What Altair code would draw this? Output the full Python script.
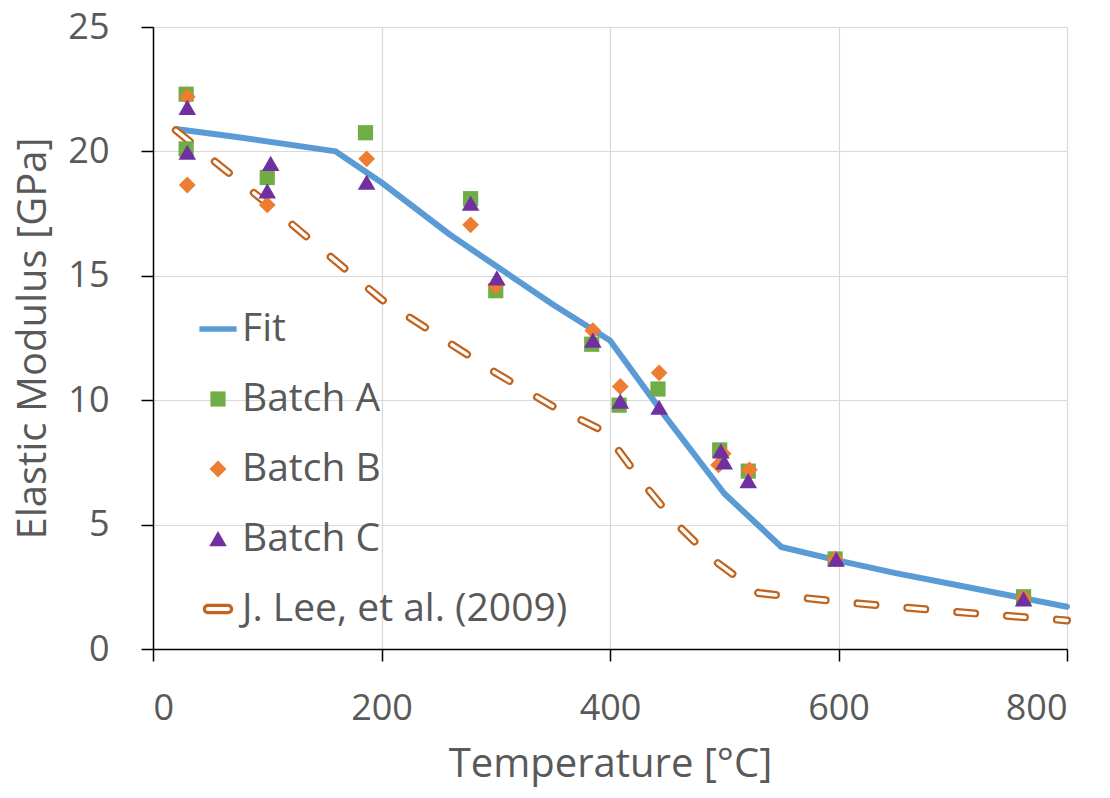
import altair as alt
import pandas as pd

# ---- data ----
fit_temp = [20, 70, 160, 200, 260, 300, 350, 400, 450, 500, 550, 600, 650, 700, 750, 800]
fit_mod = [20.9, 20.6, 20.0, 18.75, 16.65, 15.4, 13.85, 12.4, 9.25, 6.25, 4.1, 3.55, 3.05, 2.6, 2.15, 1.7]

lee_temp = [20, 100, 200, 300, 350, 395, 430, 460, 490, 530, 600, 700, 800]
lee_mod = [20.85, 17.9, 14.05, 11.1, 9.75, 8.75, 6.6, 4.95, 3.6, 2.25, 1.9, 1.5, 1.15]

a_temp = [29, 29, 100, 186, 278, 300, 384, 408, 442, 496, 521, 597, 762]
a_mod = [22.3, 20.1, 18.95, 20.75, 18.1, 14.4, 12.25, 9.8, 10.45, 8.0, 7.15, 3.62, 2.1]

b_temp = [30, 30, 100, 187, 278, 300, 385, 409, 443, 495, 499, 522, 597, 762]
b_mod = [22.2, 18.65, 17.85, 19.7, 17.05, 14.6, 12.8, 10.55, 11.1, 7.4, 7.85, 7.2, 3.62, 2.05]

c_temp = [30, 30, 103, 100, 187, 278, 301, 385, 409, 443, 497, 500, 521, 598, 762]
c_mod = [21.75, 19.95, 19.5, 18.4, 18.75, 17.9, 14.9, 12.4, 9.95, 9.7, 7.95, 7.5, 6.75, 3.6, 2.0]

series_names = ["Fit", "Batch A", "Batch B", "Batch C", "J. Lee, et al. (2009)"]
series_colors = ["#5B9BD5", "#70AD47", "#ED7D31", "#7030A0", "#C0641E"]

# symbol paths (unit = half of sqrt(size))
sym_fit = "M-0.93,-0.14 L0.93,-0.14 L0.93,0.14 L-0.93,0.14 Z"
sym_square = "M-0.38,-0.38 L0.38,-0.38 L0.38,0.38 L-0.38,0.38 Z"
sym_diamond = "M0,-0.42 L0.42,0 L0,0.42 L-0.42,0 Z"
sym_triangle = "M0,-0.4 L0.44,0.36 L-0.44,0.36 Z"
sym_lee = ("M-0.5,-0.26 L0.5,-0.26 A0.26,0.26 0 0 1 0.5,0.26 L-0.5,0.26 "
           "A0.26,0.26 0 0 1 -0.5,-0.26 Z "
           "M-0.5,-0.1 A0.1,0.1 0 0 0 -0.5,0.1 L0.5,0.1 A0.1,0.1 0 0 0 0.5,-0.1 Z")
series_shapes = [sym_fit, sym_square, sym_diamond, sym_triangle, sym_lee]

fit_df = pd.DataFrame({"T": fit_temp, "E": fit_mod})
lee_df = pd.DataFrame({"T": lee_temp, "E": lee_mod})
pts_df = pd.concat([
    pd.DataFrame({"T": a_temp, "E": a_mod, "series": "Batch A"}),
    pd.DataFrame({"T": b_temp, "E": b_mod, "series": "Batch B"}),
    pd.DataFrame({"T": c_temp, "E": c_mod, "series": "Batch C"}),
], ignore_index=True)
pts_df["order"] = pts_df.index

FONT = "Open Sans"
GREY = "#595959"

xscale = alt.Scale(domain=[0, 800], nice=False)
yscale = alt.Scale(domain=[0, 25], nice=False)

xenc = alt.X("T:Q", scale=xscale, axis=alt.Axis(
    values=[0, 200, 400, 600, 800], title="Temperature [°C]", format="d",
    tickSize=12, labelPadding=30, titlePadding=18))
yenc = alt.Y("E:Q", scale=yscale, axis=alt.Axis(
    values=[0, 5, 10, 15, 20, 25], title="Elastic Modulus [GPa]",
    tickSize=12, labelPadding=32, titlePadding=14))

fit_line = alt.Chart(fit_df).mark_line(
    color="#5B9BD5", strokeWidth=6, strokeCap="round", strokeJoin="round"
).encode(x=xenc, y=yenc)

lee_outer = alt.Chart(lee_df).mark_line(
    color="#C0641E", strokeWidth=8, strokeDash=[18, 32], strokeCap="round"
).encode(x="T:Q", y="E:Q")
lee_inner = alt.Chart(lee_df).mark_line(
    color="white", strokeWidth=3.5, strokeDash=[18, 32], strokeCap="round"
).encode(x="T:Q", y="E:Q")

points = alt.Chart(pts_df).mark_point(filled=True, opacity=1, size=1600).encode(
    x="T:Q", y="E:Q",
    color=alt.Color("series:N", scale=alt.Scale(domain=series_names, range=series_colors),
                    legend=alt.Legend(title=None, orient="none", legendX=45, legendY=282)),
    shape=alt.Shape("series:N", scale=alt.Scale(domain=series_names, range=series_shapes),
                    legend=alt.Legend(title=None, orient="none", legendX=45, legendY=282)),
    order="order:Q",
)

chart = alt.layer(fit_line, lee_outer, lee_inner, points).properties(
    width=914, height=622,
    autosize=alt.AutoSizeParams(type="none"),
    padding={"left": 153, "top": 27, "right": 43, "bottom": 149},
    background="white",
).configure_view(stroke=None).configure_axis(
    labelFont=FONT, labelFontSize=36, labelColor=GREY,
    titleFont=FONT, titleFontSize=40, titleColor=GREY, titleFontWeight="normal",
    gridColor="#D9D9D9", gridWidth=1.2,
    domainColor="#000000", domainWidth=1.5, tickColor="#000000", tickWidth=1.5,
).configure_legend(
    labelFont=FONT, labelFontSize=39, labelColor=GREY, labelLimit=600,
    symbolSize=1600, symbolStrokeWidth=0, rowPadding=30, labelOffset=4, padding=0,
)

chart.save("out.html", embed_options={"renderer": "svg", "actions": False})
